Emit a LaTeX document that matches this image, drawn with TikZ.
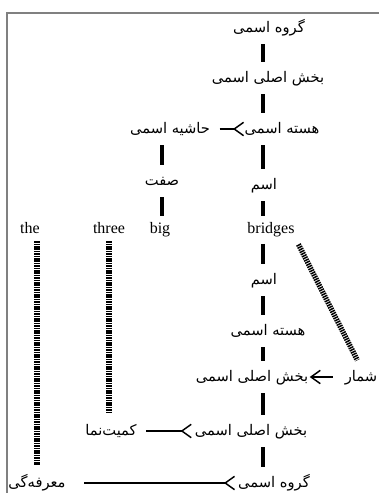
\documentclass[tikz,border=0pt]{standalone}
\usepackage{fontspec}
\setmainfont{Liberation Serif}
\newfontfamily\fa[Script=Arabic]{DejaVu Sans}
\TeXXeTstate=1
\usepackage{tikz}
\usetikzlibrary{arrows.meta}

\begin{document}
\begin{tikzpicture}[x=0.75pt, y=-0.75pt, font=\fontsize{12}{14}\selectfont]
\tikzstyle{fa}=[font=\fa\fontsize{11}{13}\selectfont, inner sep=0pt,
  text height=10pt, text depth=4pt,
  execute at begin node=\beginR, execute at end node=\endR]
\tikzstyle{en}=[inner sep=0pt, text height=8pt, text depth=2.5pt]
\tikzstyle{bar}=[line width=3pt, shorten <=5pt, shorten >=5pt]
\tikzstyle{dep}=[line width=4pt, dash pattern=on 1.1pt off 0.7pt,
  shorten <=3pt, shorten >=6pt]
\tikzstyle{arr}=[line width=1.1pt, -{Straight Barb[reversed, length=7pt, width=10pt]}]
\useasboundingbox (0,0) rectangle (379,493);
\draw[gray, line width=1.5pt] (7,493) -- (7,13) -- (379,13);
\coordinate (spine) at (263,0);
% upper part
\node[fa] (g1) at (269,28) {گروه اسمی};
\node[fa] (b1) at (268,78) {بخش اصلی اسمی};
\node[fa] (h1) at (282,129) {هسته اسمی};
\node[fa] (hs) at (170,129) {حاشیه اسمی};
\node[fa] (sf) at (162,181) {صفت};
\node[fa] (es1) at (264,185) {اسم};
% words
\node[en] (the) at (30,230) {the};
\node[en] (three) at (109,230) {three};
\node[en] (big) at (160,230) {big};
\node[en] (bridges) at (271,230) {bridges};
% lower part
\node[fa] (es2) at (264,280) {اسم};
\node[fa] (h2) at (268,331) {هسته اسمی};
\node[fa] (b2) at (252,377) {بخش اصلی اسمی};
\node[fa] (shomar) at (361,377) {شمار};
\node[fa] (b3) at (251,431) {بخش اصلی اسمی};
\node[fa] (kam) at (111,431) {کمیت‌نما};
\node[fa] (g2) at (274,483) {گروه اسمی};
\node[fa] (mar) at (37,483) {معرفه‌گی};
% spine
\foreach \a/\b in {g1/b1, b1/h1, h1/es1, es1/bridges, bridges/es2,
  es2/h2, h2/b2, b2/b3, b3/g2}
  \draw[bar] (\a.south -| spine) -- (\b.north -| spine);
\draw[bar] (hs.south -| sf) -- (sf.north);
\draw[bar] (sf.south) -- (sf.south |- big.north);
% dependents
\draw[dep] (the.south -| mar) -- (mar.north);
\draw[dep] (three.south) -- (three.south |- kam.north);
\draw[dep, shorten <=6pt] (bridges.south east) -- (shomar.north);
\draw[arr, shorten <=7pt] (hs) -- (h1);
\draw[arr, shorten <=7pt, shorten >=2pt] (kam) -- (b3);
\draw[arr, shorten <=14pt, shorten >=2pt] (mar) -- (g2);
\draw[line width=1.1pt, -{Straight Barb[length=7pt, width=10pt]},
  shorten <=9pt, shorten >=1pt] (shomar) -- (b2);
\end{tikzpicture}
\end{document}
